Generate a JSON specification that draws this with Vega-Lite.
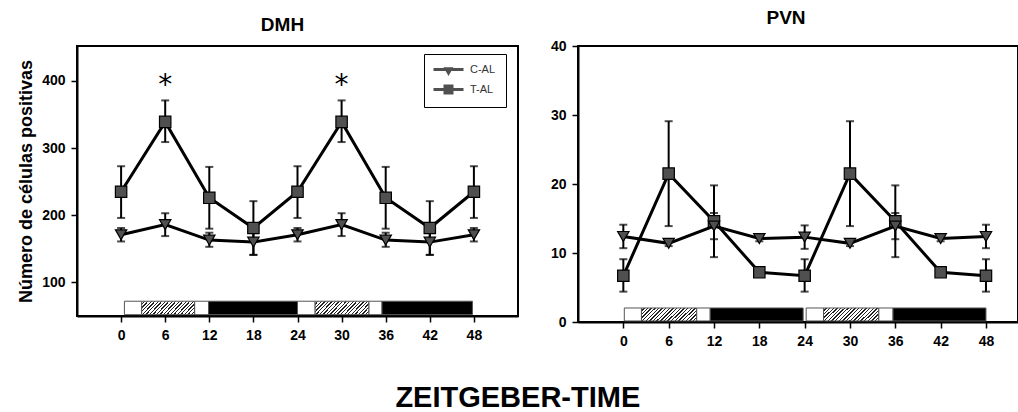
{
  "$schema": "https://vega.github.io/schema/vega-lite/v6.json",
  "background": "white",
  "padding": {"left": 16, "top": 8, "right": 0, "bottom": 0},
  "config": {
    "font": "Liberation Sans",
    "view": {"stroke": "black", "strokeWidth": 2},
    "axis": {
      "grid": false,
      "domainColor": "black",
      "domainWidth": 2,
      "tickColor": "black",
      "tickWidth": 1.5,
      "tickSize": 6,
      "labelPadding": 6,
      "labelFont": "Liberation Sans",
      "labelFontWeight": "bold",
      "labelFontSize": 14,
      "labelColor": "black",
      "titleFont": "Liberation Sans",
      "titleFontWeight": "bold",
      "titleFontSize": 18,
      "titleColor": "black",
      "titlePadding": 6
    },
    "axisX": {"labelPadding": 6}
  },
  "title": {
    "text": "ZEITGEBER-TIME",
    "orient": "bottom",
    "anchor": "middle",
    "font": "Liberation Sans",
    "fontSize": 29,
    "fontWeight": "bold",
    "color": "black",
    "offset": 35
  },
  "datasets": {
    "dmh": [
      {"t": 0, "group": "T-AL", "mean": 235, "lo": 196, "hi": 273},
      {"t": 6, "group": "T-AL", "mean": 339, "lo": 309, "hi": 371},
      {"t": 12, "group": "T-AL", "mean": 226, "lo": 180, "hi": 272},
      {"t": 18, "group": "T-AL", "mean": 181, "lo": 141, "hi": 221},
      {"t": 24, "group": "T-AL", "mean": 235, "lo": 196, "hi": 273},
      {"t": 30, "group": "T-AL", "mean": 339, "lo": 309, "hi": 371},
      {"t": 36, "group": "T-AL", "mean": 226, "lo": 180, "hi": 272},
      {"t": 42, "group": "T-AL", "mean": 181, "lo": 141, "hi": 221},
      {"t": 48, "group": "T-AL", "mean": 235, "lo": 196, "hi": 273},
      {"t": 0, "group": "C-AL", "mean": 171, "lo": 161, "hi": 181},
      {"t": 6, "group": "C-AL", "mean": 186, "lo": 169, "hi": 203},
      {"t": 12, "group": "C-AL", "mean": 163, "lo": 153, "hi": 174},
      {"t": 18, "group": "C-AL", "mean": 160, "lo": 141, "hi": 179},
      {"t": 24, "group": "C-AL", "mean": 171, "lo": 161, "hi": 181},
      {"t": 30, "group": "C-AL", "mean": 186, "lo": 169, "hi": 203},
      {"t": 36, "group": "C-AL", "mean": 163, "lo": 153, "hi": 174},
      {"t": 42, "group": "C-AL", "mean": 160, "lo": 141, "hi": 179},
      {"t": 48, "group": "C-AL", "mean": 171, "lo": 161, "hi": 181}
    ],
    "pvn": [
      {"t": 0, "group": "T-AL", "mean": 6.7, "lo": 4.4, "hi": 9.1},
      {"t": 6, "group": "T-AL", "mean": 21.5, "lo": 13.9, "hi": 29.1},
      {"t": 12, "group": "T-AL", "mean": 14.6, "lo": 9.4, "hi": 19.8},
      {"t": 18, "group": "T-AL", "mean": 7.2, "lo": 6.8, "hi": 7.6},
      {"t": 24, "group": "T-AL", "mean": 6.7, "lo": 4.4, "hi": 9.1},
      {"t": 30, "group": "T-AL", "mean": 21.5, "lo": 13.9, "hi": 29.1},
      {"t": 36, "group": "T-AL", "mean": 14.6, "lo": 9.4, "hi": 19.8},
      {"t": 42, "group": "T-AL", "mean": 7.2, "lo": 6.8, "hi": 7.6},
      {"t": 48, "group": "T-AL", "mean": 6.7, "lo": 4.4, "hi": 9.1},
      {"t": 0, "group": "C-AL", "mean": 12.4, "lo": 10.7, "hi": 14.1},
      {"t": 6, "group": "C-AL", "mean": 11.4, "lo": 11.0, "hi": 11.8},
      {"t": 12, "group": "C-AL", "mean": 13.9, "lo": 12.0, "hi": 15.8},
      {"t": 18, "group": "C-AL", "mean": 12.1, "lo": 11.7, "hi": 12.5},
      {"t": 24, "group": "C-AL", "mean": 12.3, "lo": 10.6, "hi": 14.0},
      {"t": 30, "group": "C-AL", "mean": 11.4, "lo": 11.0, "hi": 11.8},
      {"t": 36, "group": "C-AL", "mean": 13.9, "lo": 12.0, "hi": 15.8},
      {"t": 42, "group": "C-AL", "mean": 12.1, "lo": 11.7, "hi": 12.5},
      {"t": 48, "group": "C-AL", "mean": 12.4, "lo": 10.7, "hi": 14.1}
    ],
    "phases_dmh": [
      {"start": 0.45, "end": 2.8, "phase": "light"},
      {"start": 2.8, "end": 10.0, "phase": "hatched"},
      {"start": 10.0, "end": 11.9, "phase": "light"},
      {"start": 11.9, "end": 24.0, "phase": "dark"},
      {"start": 24.0, "end": 26.4, "phase": "light"},
      {"start": 26.4, "end": 33.7, "phase": "hatched"},
      {"start": 33.7, "end": 35.5, "phase": "light"},
      {"start": 35.5, "end": 47.8, "phase": "dark"}
    ],
    "phases_pvn": [
      {"start": 0.13, "end": 2.4, "phase": "light"},
      {"start": 2.4, "end": 9.7, "phase": "hatched"},
      {"start": 9.7, "end": 11.5, "phase": "light"},
      {"start": 11.5, "end": 23.8, "phase": "dark"},
      {"start": 24.2, "end": 26.5, "phase": "light"},
      {"start": 26.5, "end": 33.8, "phase": "hatched"},
      {"start": 33.8, "end": 35.7, "phase": "light"},
      {"start": 35.7, "end": 48.0, "phase": "dark"}
    ],
    "stars": [
      {"t": 6, "v": 392, "label": "*"},
      {"t": 30, "v": 392, "label": "*"}
    ]
  },
  "spacing": 30,
  "hconcat": [
    {
      "width": 441,
      "height": 270,
      "title": {"text": "DMH", "frame": "group", "anchor": "middle", "dx": -15, "offset": 11, "font": "Liberation Sans", "fontSize": 19, "fontWeight": "bold", "color": "black"},
      "layer": [
        {
          "data": {"name": "phases_dmh"},
          "transform": [{"filter": "datum.phase !== 'hatched'"}],
          "mark": {"type": "rect", "stroke": "#555", "strokeWidth": 1},
          "encoding": {
            "x": {"field": "start", "type": "quantitative", "scale": {"domain": [-6, 54], "nice": false, "zero": false}, "axis": {"values": [0, 6, 12, 18, 24, 30, 36, 42, 48], "title": null}},
            "x2": {"field": "end"},
            "y": {"datum": 52, "type": "quantitative", "scale": {"domain": [50, 452], "nice": false, "zero": false}, "axis": {"values": [100, 200, 300, 400], "title": "Número de células positivas"}},
            "y2": {"datum": 72},
            "fill": {"field": "phase", "type": "nominal", "scale": {"domain": ["light", "dark"], "range": ["white", "black"]}, "legend": null}
          }
        },
        {
          "data": {"name": "phases_dmh"},
          "transform": [{"filter": "datum.phase === 'hatched'"}],
          "mark": {"type": "rect", "stroke": "#555", "strokeWidth": 1,
            "fill": {"gradient": "linear", "x1": 0, "y1": 0, "x2": 1.25, "y2": 0.3, "stops": [
              {"offset": 0, "color": "white"}, {"offset": 0.031, "color": "white"}, {"offset": 0.031, "color": "#222"}, {"offset": 0.05, "color": "#222"},
              {"offset": 0.05, "color": "white"}, {"offset": 0.081, "color": "white"}, {"offset": 0.081, "color": "#222"}, {"offset": 0.1, "color": "#222"},
              {"offset": 0.1, "color": "white"}, {"offset": 0.131, "color": "white"}, {"offset": 0.131, "color": "#222"}, {"offset": 0.15, "color": "#222"},
              {"offset": 0.15, "color": "white"}, {"offset": 0.181, "color": "white"}, {"offset": 0.181, "color": "#222"}, {"offset": 0.2, "color": "#222"},
              {"offset": 0.2, "color": "white"}, {"offset": 0.231, "color": "white"}, {"offset": 0.231, "color": "#222"}, {"offset": 0.25, "color": "#222"},
              {"offset": 0.25, "color": "white"}, {"offset": 0.281, "color": "white"}, {"offset": 0.281, "color": "#222"}, {"offset": 0.3, "color": "#222"},
              {"offset": 0.3, "color": "white"}, {"offset": 0.331, "color": "white"}, {"offset": 0.331, "color": "#222"}, {"offset": 0.35, "color": "#222"},
              {"offset": 0.35, "color": "white"}, {"offset": 0.381, "color": "white"}, {"offset": 0.381, "color": "#222"}, {"offset": 0.4, "color": "#222"},
              {"offset": 0.4, "color": "white"}, {"offset": 0.431, "color": "white"}, {"offset": 0.431, "color": "#222"}, {"offset": 0.45, "color": "#222"},
              {"offset": 0.45, "color": "white"}, {"offset": 0.481, "color": "white"}, {"offset": 0.481, "color": "#222"}, {"offset": 0.5, "color": "#222"},
              {"offset": 0.5, "color": "white"}, {"offset": 0.531, "color": "white"}, {"offset": 0.531, "color": "#222"}, {"offset": 0.55, "color": "#222"},
              {"offset": 0.55, "color": "white"}, {"offset": 0.581, "color": "white"}, {"offset": 0.581, "color": "#222"}, {"offset": 0.6, "color": "#222"},
              {"offset": 0.6, "color": "white"}, {"offset": 0.631, "color": "white"}, {"offset": 0.631, "color": "#222"}, {"offset": 0.65, "color": "#222"},
              {"offset": 0.65, "color": "white"}, {"offset": 0.681, "color": "white"}, {"offset": 0.681, "color": "#222"}, {"offset": 0.7, "color": "#222"},
              {"offset": 0.7, "color": "white"}, {"offset": 0.731, "color": "white"}, {"offset": 0.731, "color": "#222"}, {"offset": 0.75, "color": "#222"},
              {"offset": 0.75, "color": "white"}, {"offset": 0.781, "color": "white"}, {"offset": 0.781, "color": "#222"}, {"offset": 0.8, "color": "#222"},
              {"offset": 0.8, "color": "white"}, {"offset": 0.831, "color": "white"}, {"offset": 0.831, "color": "#222"}, {"offset": 0.85, "color": "#222"},
              {"offset": 0.85, "color": "white"}, {"offset": 0.881, "color": "white"}, {"offset": 0.881, "color": "#222"}, {"offset": 0.9, "color": "#222"},
              {"offset": 0.9, "color": "white"}, {"offset": 0.931, "color": "white"}, {"offset": 0.931, "color": "#222"}, {"offset": 0.95, "color": "#222"},
              {"offset": 0.95, "color": "white"}, {"offset": 0.981, "color": "white"}, {"offset": 0.981, "color": "#222"}, {"offset": 1, "color": "#222"}
            ]}},
          "encoding": {
            "x": {"field": "start", "type": "quantitative", "scale": {"domain": [-6, 54], "nice": false, "zero": false}, "axis": {"values": [0, 6, 12, 18, 24, 30, 36, 42, 48], "title": null}},
            "x2": {"field": "end"},
            "y": {"datum": 52, "type": "quantitative", "scale": {"domain": [50, 452], "nice": false, "zero": false}, "axis": {"values": [100, 200, 300, 400], "title": "Número de células positivas"}},
            "y2": {"datum": 72}
          }
        },
        {
          "data": {"name": "dmh"},
          "mark": {"type": "rule", "color": "black", "strokeWidth": 2},
          "encoding": {
            "x": {"field": "t", "type": "quantitative", "scale": {"domain": [-6, 54], "nice": false, "zero": false}, "axis": {"values": [0, 6, 12, 18, 24, 30, 36, 42, 48], "title": null}},
            "y": {"field": "lo", "type": "quantitative", "scale": {"domain": [50, 452], "nice": false, "zero": false}, "axis": {"values": [100, 200, 300, 400], "title": "Número de células positivas"}},
            "y2": {"field": "hi"}
          }
        },
        {
          "data": {"name": "dmh"},
          "mark": {"type": "tick", "orient": "horizontal", "color": "black", "size": 8, "thickness": 2},
          "encoding": {
            "x": {"field": "t", "type": "quantitative", "scale": {"domain": [-6, 54], "nice": false, "zero": false}, "axis": {"values": [0, 6, 12, 18, 24, 30, 36, 42, 48], "title": null}},
            "y": {"field": "lo", "type": "quantitative", "scale": {"domain": [50, 452], "nice": false, "zero": false}, "axis": {"values": [100, 200, 300, 400], "title": "Número de células positivas"}}
          }
        },
        {
          "data": {"name": "dmh"},
          "mark": {"type": "tick", "orient": "horizontal", "color": "black", "size": 8, "thickness": 2},
          "encoding": {
            "x": {"field": "t", "type": "quantitative", "scale": {"domain": [-6, 54], "nice": false, "zero": false}, "axis": {"values": [0, 6, 12, 18, 24, 30, 36, 42, 48], "title": null}},
            "y": {"field": "hi", "type": "quantitative", "scale": {"domain": [50, 452], "nice": false, "zero": false}, "axis": {"values": [100, 200, 300, 400], "title": "Número de células positivas"}}
          }
        },
        {
          "data": {"name": "dmh"},
          "mark": {"type": "line", "color": "black", "strokeWidth": 3},
          "encoding": {
            "x": {"field": "t", "type": "quantitative", "scale": {"domain": [-6, 54], "nice": false, "zero": false}, "axis": {"values": [0, 6, 12, 18, 24, 30, 36, 42, 48], "title": null}},
            "y": {"field": "mean", "type": "quantitative", "scale": {"domain": [50, 452], "nice": false, "zero": false}, "axis": {"values": [100, 200, 300, 400], "title": "Número de células positivas"}},
            "detail": {"field": "group", "type": "nominal"}
          }
        },
        {
          "data": {"name": "dmh"},
          "mark": {"type": "point", "filled": true, "fill": "#505050", "stroke": "black", "strokeWidth": 1.2, "size": 130, "opacity": 1},
          "encoding": {
            "x": {"field": "t", "type": "quantitative", "scale": {"domain": [-6, 54], "nice": false, "zero": false}, "axis": {"values": [0, 6, 12, 18, 24, 30, 36, 42, 48], "title": null}},
            "y": {"field": "mean", "type": "quantitative", "scale": {"domain": [50, 452], "nice": false, "zero": false}, "axis": {"values": [100, 200, 300, 400], "title": "Número de células positivas"}},
            "shape": {"field": "group", "type": "nominal", "scale": {"domain": ["C-AL", "T-AL"], "range": ["triangle-down", "square"]}, "legend": null}
          }
        },
        {
          "data": {"name": "stars"},
          "mark": {"type": "text", "font": "DejaVu Sans", "fontSize": 28, "baseline": "middle", "align": "center", "color": "black"},
          "encoding": {
            "x": {"field": "t", "type": "quantitative", "scale": {"domain": [-6, 54], "nice": false, "zero": false}, "axis": {"values": [0, 6, 12, 18, 24, 30, 36, 42, 48], "title": null}},
            "y": {"field": "v", "type": "quantitative", "scale": {"domain": [50, 452], "nice": false, "zero": false}, "axis": {"values": [100, 200, 300, 400], "title": "Número de células positivas"}},
            "text": {"field": "label"}
          }
        },
        {
          "data": {"values": []},
          "mark": {"type": "point", "filled": true, "fill": "#505050", "stroke": "black", "strokeWidth": 1, "opacity": 1},
          "encoding": {
            "shape": {
              "field": "group", "type": "nominal",
              "scale": {"domain": ["C-AL", "T-AL"], "range": [
                "M-3,-0.3H-0.914L-1,-0.45H1L0.914,-0.3H3V0.3H0.571L0,1.3L-0.571,0.3H-3Z",
                "M-3,-0.3H-1V-1H1V-0.3H3V0.3H1V1H-1V0.3H-3Z"
              ]},
              "legend": {
                "orient": "none", "legendX": 347, "legendY": 8, "title": null,
                "strokeColor": "black", "padding": 10,
                "symbolSize": 100, "symbolOffset": 9, "labelOffset": 16,
                "labelFont": "Liberation Sans", "labelFontSize": 11, "labelColor": "#333",
                "rowPadding": 4,
                "symbolFillColor": "#505050", "symbolStrokeColor": "black", "symbolStrokeWidth": 1
              }
            }
          }
        }
      ],
      "resolve": {"scale": {"shape": "independent"}}
    },
    {
      "width": 440,
      "height": 276,
      "title": {"text": "PVN", "frame": "group", "anchor": "middle", "dx": -12, "offset": 11, "font": "Liberation Sans", "fontSize": 19, "fontWeight": "bold", "color": "black"},
      "layer": [
        {
          "data": {"name": "phases_pvn"},
          "transform": [{"filter": "datum.phase !== 'hatched'"}],
          "mark": {"type": "rect", "stroke": "#555", "strokeWidth": 1},
          "encoding": {
            "x": {"field": "start", "type": "quantitative", "scale": {"domain": [-6, 52.24], "nice": false, "zero": false}, "axis": {"values": [0, 6, 12, 18, 24, 30, 36, 42, 48], "title": null}},
            "x2": {"field": "end"},
            "y": {"datum": 0.15, "type": "quantitative", "scale": {"domain": [0, 40], "nice": false, "zero": false}, "axis": {"values": [0, 10, 20, 30, 40], "title": null}},
            "y2": {"datum": 2.03},
            "fill": {"field": "phase", "type": "nominal", "scale": {"domain": ["light", "dark"], "range": ["white", "black"]}, "legend": null}
          }
        },
        {
          "data": {"name": "phases_pvn"},
          "transform": [{"filter": "datum.phase === 'hatched'"}],
          "mark": {"type": "rect", "stroke": "#555", "strokeWidth": 1,
            "fill": {"gradient": "linear", "x1": 0, "y1": 0, "x2": 1.25, "y2": 0.3, "stops": [
              {"offset": 0, "color": "white"}, {"offset": 0.031, "color": "white"}, {"offset": 0.031, "color": "#222"}, {"offset": 0.05, "color": "#222"},
              {"offset": 0.05, "color": "white"}, {"offset": 0.081, "color": "white"}, {"offset": 0.081, "color": "#222"}, {"offset": 0.1, "color": "#222"},
              {"offset": 0.1, "color": "white"}, {"offset": 0.131, "color": "white"}, {"offset": 0.131, "color": "#222"}, {"offset": 0.15, "color": "#222"},
              {"offset": 0.15, "color": "white"}, {"offset": 0.181, "color": "white"}, {"offset": 0.181, "color": "#222"}, {"offset": 0.2, "color": "#222"},
              {"offset": 0.2, "color": "white"}, {"offset": 0.231, "color": "white"}, {"offset": 0.231, "color": "#222"}, {"offset": 0.25, "color": "#222"},
              {"offset": 0.25, "color": "white"}, {"offset": 0.281, "color": "white"}, {"offset": 0.281, "color": "#222"}, {"offset": 0.3, "color": "#222"},
              {"offset": 0.3, "color": "white"}, {"offset": 0.331, "color": "white"}, {"offset": 0.331, "color": "#222"}, {"offset": 0.35, "color": "#222"},
              {"offset": 0.35, "color": "white"}, {"offset": 0.381, "color": "white"}, {"offset": 0.381, "color": "#222"}, {"offset": 0.4, "color": "#222"},
              {"offset": 0.4, "color": "white"}, {"offset": 0.431, "color": "white"}, {"offset": 0.431, "color": "#222"}, {"offset": 0.45, "color": "#222"},
              {"offset": 0.45, "color": "white"}, {"offset": 0.481, "color": "white"}, {"offset": 0.481, "color": "#222"}, {"offset": 0.5, "color": "#222"},
              {"offset": 0.5, "color": "white"}, {"offset": 0.531, "color": "white"}, {"offset": 0.531, "color": "#222"}, {"offset": 0.55, "color": "#222"},
              {"offset": 0.55, "color": "white"}, {"offset": 0.581, "color": "white"}, {"offset": 0.581, "color": "#222"}, {"offset": 0.6, "color": "#222"},
              {"offset": 0.6, "color": "white"}, {"offset": 0.631, "color": "white"}, {"offset": 0.631, "color": "#222"}, {"offset": 0.65, "color": "#222"},
              {"offset": 0.65, "color": "white"}, {"offset": 0.681, "color": "white"}, {"offset": 0.681, "color": "#222"}, {"offset": 0.7, "color": "#222"},
              {"offset": 0.7, "color": "white"}, {"offset": 0.731, "color": "white"}, {"offset": 0.731, "color": "#222"}, {"offset": 0.75, "color": "#222"},
              {"offset": 0.75, "color": "white"}, {"offset": 0.781, "color": "white"}, {"offset": 0.781, "color": "#222"}, {"offset": 0.8, "color": "#222"},
              {"offset": 0.8, "color": "white"}, {"offset": 0.831, "color": "white"}, {"offset": 0.831, "color": "#222"}, {"offset": 0.85, "color": "#222"},
              {"offset": 0.85, "color": "white"}, {"offset": 0.881, "color": "white"}, {"offset": 0.881, "color": "#222"}, {"offset": 0.9, "color": "#222"},
              {"offset": 0.9, "color": "white"}, {"offset": 0.931, "color": "white"}, {"offset": 0.931, "color": "#222"}, {"offset": 0.95, "color": "#222"},
              {"offset": 0.95, "color": "white"}, {"offset": 0.981, "color": "white"}, {"offset": 0.981, "color": "#222"}, {"offset": 1, "color": "#222"}
            ]}},
          "encoding": {
            "x": {"field": "start", "type": "quantitative", "scale": {"domain": [-6, 52.24], "nice": false, "zero": false}, "axis": {"values": [0, 6, 12, 18, 24, 30, 36, 42, 48], "title": null}},
            "x2": {"field": "end"},
            "y": {"datum": 0.15, "type": "quantitative", "scale": {"domain": [0, 40], "nice": false, "zero": false}, "axis": {"values": [0, 10, 20, 30, 40], "title": null}},
            "y2": {"datum": 2.03}
          }
        },
        {
          "data": {"name": "pvn"},
          "mark": {"type": "rule", "color": "black", "strokeWidth": 2},
          "encoding": {
            "x": {"field": "t", "type": "quantitative", "scale": {"domain": [-6, 52.24], "nice": false, "zero": false}, "axis": {"values": [0, 6, 12, 18, 24, 30, 36, 42, 48], "title": null}},
            "y": {"field": "lo", "type": "quantitative", "scale": {"domain": [0, 40], "nice": false, "zero": false}, "axis": {"values": [0, 10, 20, 30, 40], "title": null}},
            "y2": {"field": "hi"}
          }
        },
        {
          "data": {"name": "pvn"},
          "mark": {"type": "tick", "orient": "horizontal", "color": "black", "size": 8, "thickness": 2},
          "encoding": {
            "x": {"field": "t", "type": "quantitative", "scale": {"domain": [-6, 52.24], "nice": false, "zero": false}, "axis": {"values": [0, 6, 12, 18, 24, 30, 36, 42, 48], "title": null}},
            "y": {"field": "lo", "type": "quantitative", "scale": {"domain": [0, 40], "nice": false, "zero": false}, "axis": {"values": [0, 10, 20, 30, 40], "title": null}}
          }
        },
        {
          "data": {"name": "pvn"},
          "mark": {"type": "tick", "orient": "horizontal", "color": "black", "size": 8, "thickness": 2},
          "encoding": {
            "x": {"field": "t", "type": "quantitative", "scale": {"domain": [-6, 52.24], "nice": false, "zero": false}, "axis": {"values": [0, 6, 12, 18, 24, 30, 36, 42, 48], "title": null}},
            "y": {"field": "hi", "type": "quantitative", "scale": {"domain": [0, 40], "nice": false, "zero": false}, "axis": {"values": [0, 10, 20, 30, 40], "title": null}}
          }
        },
        {
          "data": {"name": "pvn"},
          "mark": {"type": "line", "color": "black", "strokeWidth": 3},
          "encoding": {
            "x": {"field": "t", "type": "quantitative", "scale": {"domain": [-6, 52.24], "nice": false, "zero": false}, "axis": {"values": [0, 6, 12, 18, 24, 30, 36, 42, 48], "title": null}},
            "y": {"field": "mean", "type": "quantitative", "scale": {"domain": [0, 40], "nice": false, "zero": false}, "axis": {"values": [0, 10, 20, 30, 40], "title": null}},
            "detail": {"field": "group", "type": "nominal"}
          }
        },
        {
          "data": {"name": "pvn"},
          "mark": {"type": "point", "filled": true, "fill": "#505050", "stroke": "black", "strokeWidth": 1.2, "size": 130, "opacity": 1},
          "encoding": {
            "x": {"field": "t", "type": "quantitative", "scale": {"domain": [-6, 52.24], "nice": false, "zero": false}, "axis": {"values": [0, 6, 12, 18, 24, 30, 36, 42, 48], "title": null}},
            "y": {"field": "mean", "type": "quantitative", "scale": {"domain": [0, 40], "nice": false, "zero": false}, "axis": {"values": [0, 10, 20, 30, 40], "title": null}},
            "shape": {"field": "group", "type": "nominal", "scale": {"domain": ["C-AL", "T-AL"], "range": ["triangle-down", "square"]}, "legend": null}
          }
        }
      ]
    }
  ]
}
